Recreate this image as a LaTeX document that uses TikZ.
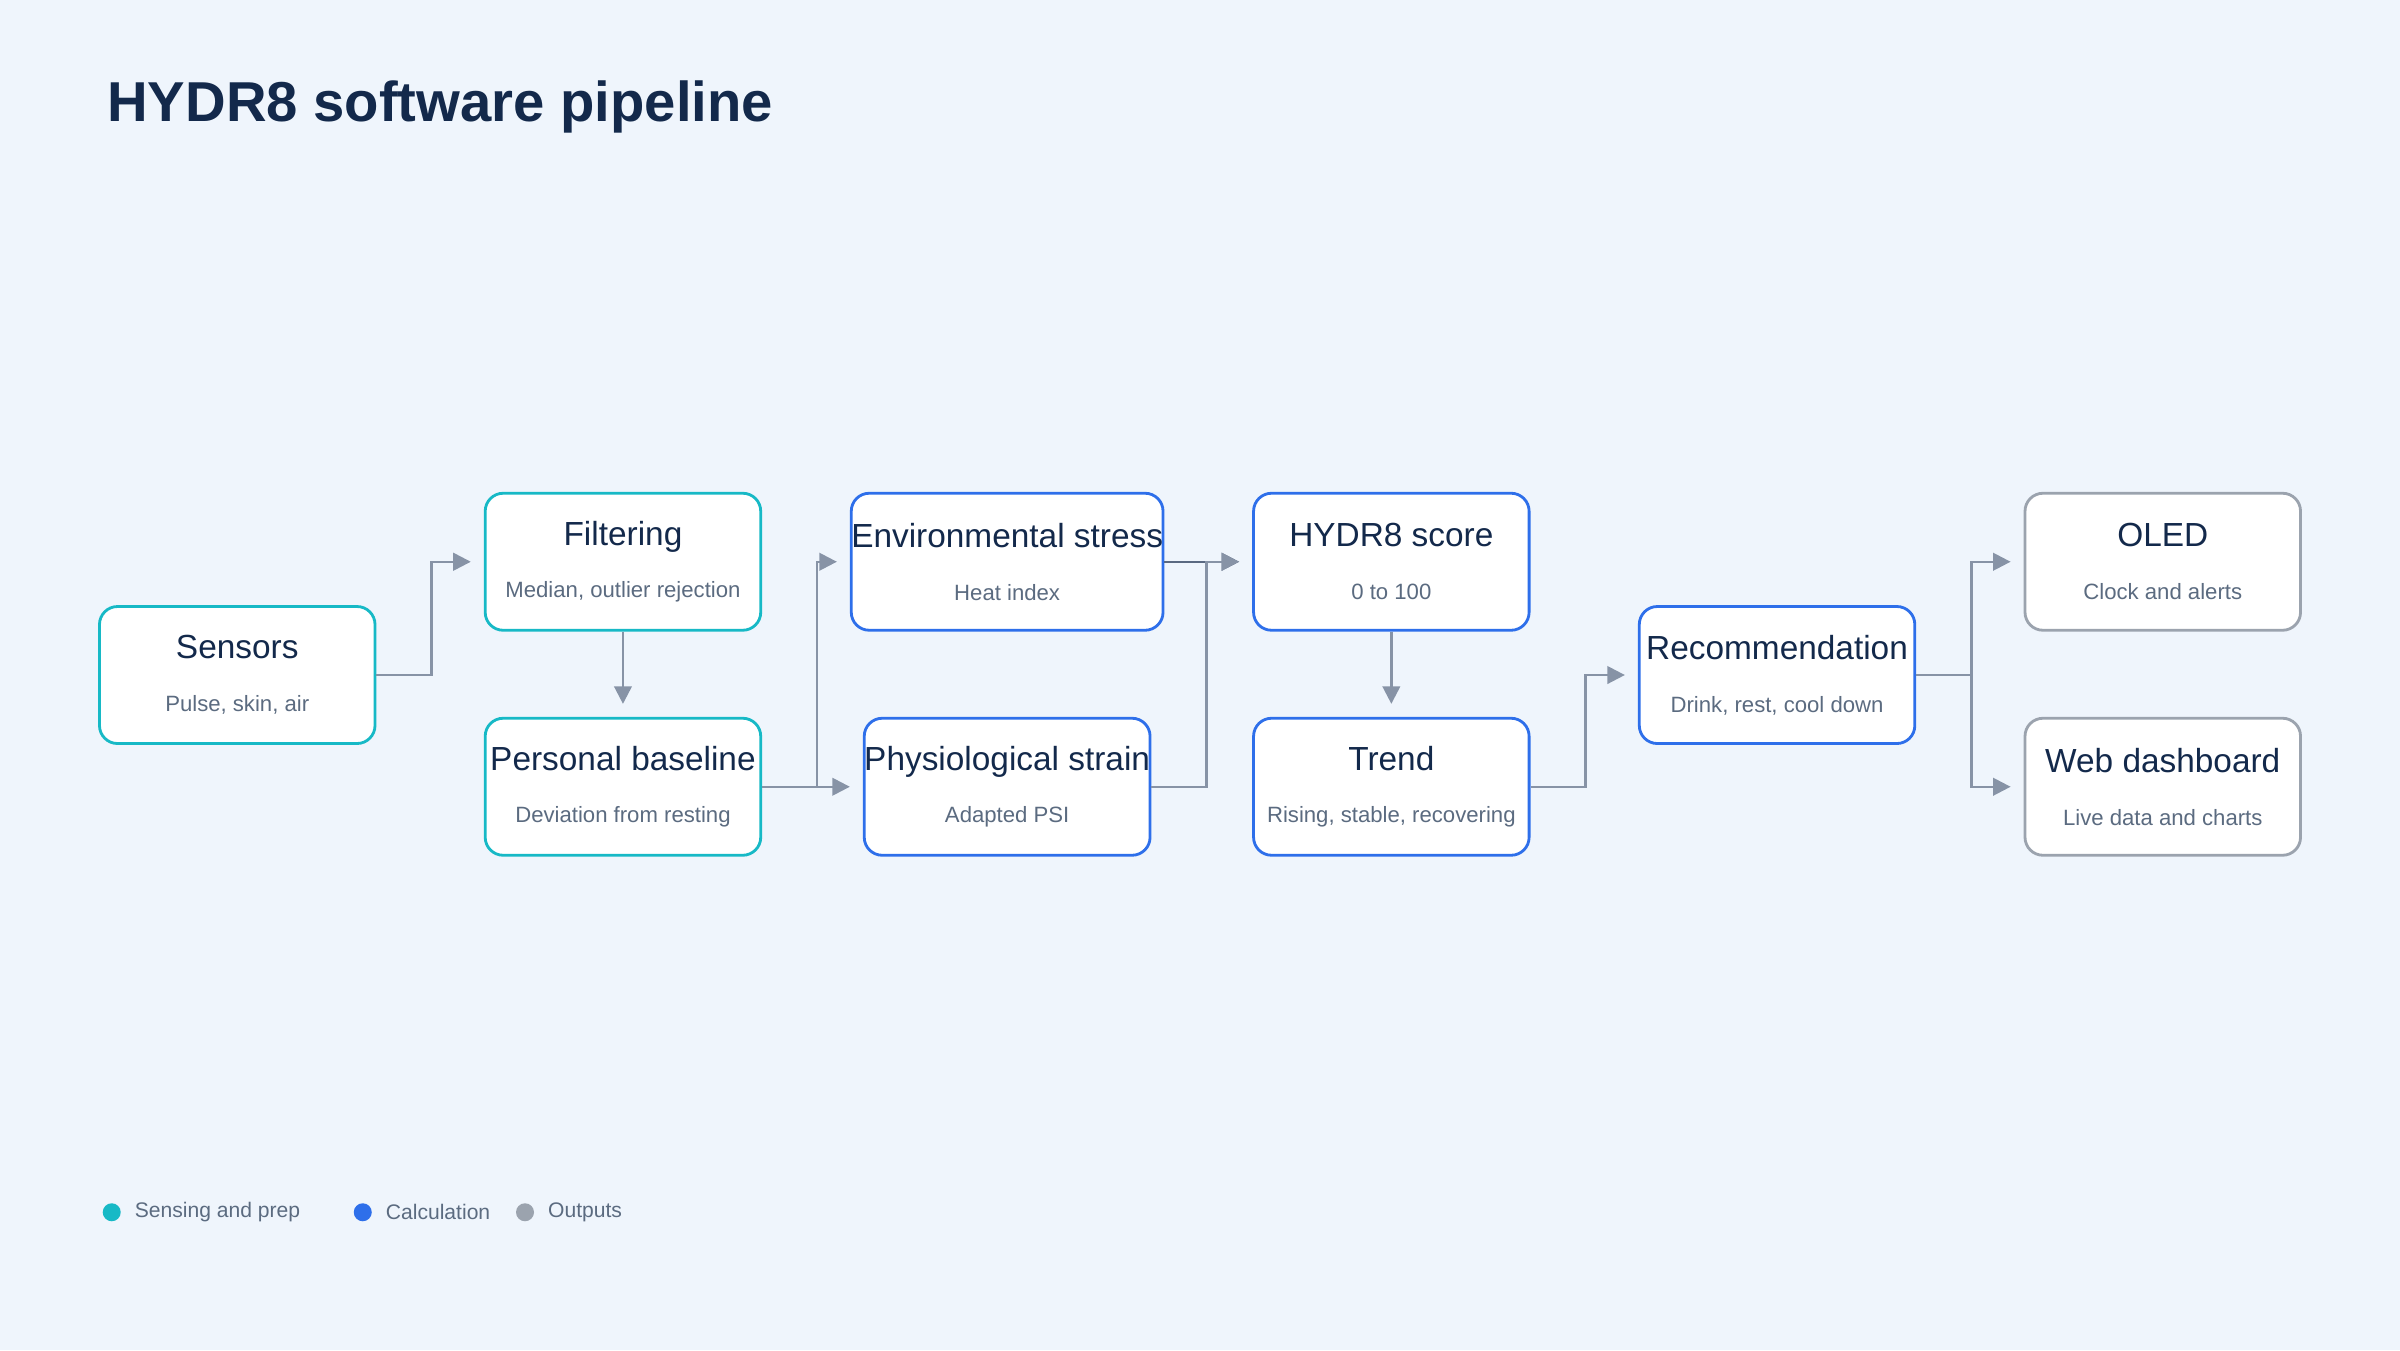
\documentclass[tikz,border=0pt]{standalone}
\usepackage{fontspec}
\setmainfont{Liberation Sans}
\usetikzlibrary{positioning,arrows.meta}
\definecolor{bgc}{HTML}{EFF5FC}
\definecolor{navy}{HTML}{13294B}
\definecolor{subc}{HTML}{5B6B80}
\definecolor{tealc}{HTML}{17B9C6}
\definecolor{bluec}{HTML}{2E6FEA}
\definecolor{grayc}{HTML}{9BA3AE}
\definecolor{linec}{HTML}{8793A6}
\tikzset{
  box/.style={draw,rounded corners=0.18cm,fill=white,line width=0.8pt,
    minimum width=2.755cm,minimum height=1.37cm,align=center,inner sep=0pt},
  prep/.style={box,draw=tealc},
  calc/.style={box,draw=bluec},
  outp/.style={box,draw=grayc},
  conn/.style={draw=linec,line width=0.7pt,-{Triangle[length=5pt,width=5pt]},shorten >=0.13cm},
  dot/.style={circle,inner sep=0pt,minimum size=0.18cm},
  leg/.style={right,text=subc,font=\fontsize{6}{7}\selectfont}
}
\newcommand{\boxtext}[2]{{\fontsize{9.5}{11}\selectfont\color{navy}#1}\\[3pt]{\fontsize{6.3}{8}\selectfont\color{subc}#2}}
\begin{document}
\begin{tikzpicture}[x=0.015306cm,y=-0.015306cm]
\fill[bgc] (0,0) rectangle (1568,882);
\node[anchor=west,text=navy,font=\fontsize{16}{19}\selectfont\bfseries] (title) at (62,70) {HYDR8 software pipeline};

% nodes
\node[prep] (sen) at (155,441) {\boxtext{Sensors}{Pulse, skin, air}};
\node[prep] (fil) at (407,367) {\boxtext{Filtering}{Median, outlier rejection}};
\node[prep] (base) at (407,514) {\boxtext{Personal baseline}{Deviation from resting}};
\node[calc] (env) at (658,367) {\boxtext{Environmental stress}{Heat index}};
\node[calc] (phys) at (658,514) {\boxtext{Physiological strain}{Adapted PSI}};
\node[calc] (score) at (909,367) {\boxtext{HYDR8 score}{0 to 100}};
\node[calc] (trend) at (909,514) {\boxtext{Trend}{Rising, stable, recovering}};
\node[calc] (rec) at (1161,441) {\boxtext{Recommendation}{Drink, rest, cool down}};
\node[outp] (oled) at (1413,367) {\boxtext{OLED}{Clock and alerts}};
\node[outp] (web) at (1413,514) {\boxtext{Web dashboard}{Live data and charts}};

% connectors
\draw[conn] (sen.east) -- ++(36,0) |- (fil.west);
\draw[conn] (fil.south) -- (base.north);
\draw[conn] (base.east) -- ++(36,0) |- (env.west);
\draw[conn] (base.east) -- (phys.west);
\draw[conn,draw=navy!70] (env.east) -- (score.west);
\draw[conn] (phys.east) -- ++(36,0) |- (score.west);
\draw[conn] (score.south) -- (trend.north);
\draw[conn] (trend.east) -- ++(36,0) |- (rec.west);
\draw[conn] (rec.east) -- ++(36,0) |- (oled.west);
\draw[conn] (rec.east) -- ++(36,0) |- (web.west);

% legend
\node[dot,fill=tealc] (d1) at (73,792) {};
\node[leg] (l1) at (80,792) {Sensing and prep};
\node[dot,fill=bluec] (d2) at (237,792) {};
\node[leg] (l2) at (244,792) {Calculation};
\node[dot,fill=grayc] (d3) at (343,792) {};
\node[leg] (l3) at (350,792) {Outputs};
\end{tikzpicture}
\end{document}
